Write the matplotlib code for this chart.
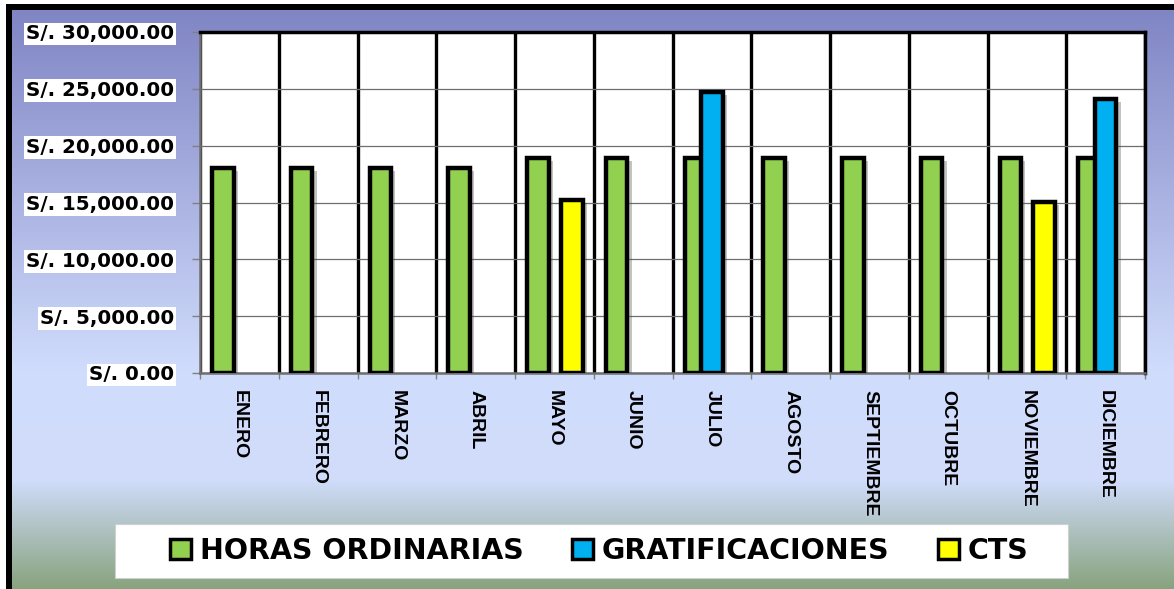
import matplotlib
matplotlib.use('Agg')
import matplotlib.pyplot as plt
import matplotlib.patheffects as pe
from matplotlib.patches import Rectangle
import numpy as np

# Data
meses = ['ENERO', 'FEBRERO', 'MARZO', 'ABRIL', 'MAYO', 'JUNIO', 'JULIO',
         'AGOSTO', 'SEPTIEMBRE', 'OCTUBRE', 'NOVIEMBRE', 'DICIEMBRE']
horas = [18050, 18050, 18050, 18050, 18930, 18930, 18930, 18930, 18930, 18930, 18930, 18930]
grati = [0, 0, 0, 0, 0, 0, 24700, 0, 0, 0, 0, 24120]
cts = [0, 0, 0, 0, 15240, 0, 0, 0, 0, 0, 15030, 0]
yticks = [0, 5000, 10000, 15000, 20000, 25000, 30000]

W, H = 1174, 589
fig = plt.figure(figsize=(W / 100, H / 100), dpi=100)
fig.patch.set_facecolor('white')

# ---- gradient background ----
rows = np.arange(H - 10)
stops_y = [0, 360, 470, H - 10]
r = np.interp(rows, stops_y, [128, 208, 208, 135])
g = np.interp(rows, stops_y, [133, 220, 220, 162])
b = np.interp(rows, stops_y, [196, 252, 250, 125])
grad = np.stack([r, g, b], axis=1)[:, None, :] / 255.0
bg = fig.add_axes([12 / W, 0, 1 - 12 / W, 1 - 10 / H], zorder=-10)
bg.imshow(grad, aspect='auto', extent=[0, 1, 0, 1])
bg.axis('off')
# black frame top / left
fig.patches.append(Rectangle((6 / W, 1 - 10 / H), 1, 6 / H, transform=fig.transFigure,
                             facecolor='black', edgecolor='none', zorder=-5))
fig.patches.append(Rectangle((6 / W, 0), 6 / W, 1 - 4 / H, transform=fig.transFigure,
                             facecolor='black', edgecolor='none', zorder=-5))

# ---- main axes ----
ax = fig.add_axes([200 / W, 1 - 373 / H, 945 / W, 341 / H])
ax.set_facecolor('white')
x = np.arange(len(meses))
bw = 0.275
shadow = [pe.SimplePatchShadow(offset=(3, -2), shadow_rgbFace='#555555', alpha=0.35), pe.Normal()]

ax.bar(x - 0.21, horas, bw, color='#92D050', edgecolor='black', linewidth=3.2,
       path_effects=shadow, zorder=3)
gx = [i for i in x if grati[i] > 0]
ax.bar(np.array(gx), [grati[i] for i in gx], bw, color='#00B0F0', edgecolor='black',
       linewidth=3.2, path_effects=shadow, zorder=4)
cx = [i for i in x if cts[i] > 0]
ax.bar(np.array(cx) + 0.22, [cts[i] for i in cx], bw, color='#FFFF00', edgecolor='black',
       linewidth=3.2, path_effects=shadow, zorder=4)

ax.set_xlim(-0.5, len(meses) - 0.5)
ax.set_ylim(0, 30000)

# horizontal grid (gray) and category separators (black)
ax.set_yticks(yticks)
ax.yaxis.grid(True, color='#6E6E6E', linewidth=0.9)
ax.set_xticks(x)
ax.set_xticks(np.arange(-0.5, len(meses)), minor=True)
ax.xaxis.grid(True, which='minor', color='black', linewidth=2.4)
ax.xaxis.grid(False, which='major')
ax.set_axisbelow(True)

ax.set_yticklabels(['S/. {:,.2f}'.format(v) for v in yticks],
                   fontsize=14.3, fontweight='bold', family='DejaVu Sans')
for lbl in ax.get_yticklabels():
    lbl.set_bbox(dict(facecolor='white', edgecolor='none', pad=1.5))
ax.tick_params(axis='y', length=5.5, color='#808080', width=1, pad=13)

ax.set_xticklabels(meses, rotation=270, ha='center', va='top', fontsize=14,
                   fontweight='bold', family='Liberation Sans')
ax.tick_params(axis='x', which='major', length=0, pad=12)
ax.tick_params(axis='x', which='minor', length=4, color='#808080', width=1)

for s in ['top', 'right']:
    ax.spines[s].set_color('black')
    ax.spines[s].set_linewidth(2.5)
for s in ['left', 'bottom']:
    ax.spines[s].set_color('#6E6E6E')
    ax.spines[s].set_linewidth(1.8)

# ---- legend ----
fig.patches.append(Rectangle((115 / W, 1 - 578 / H), 953 / W, 54 / H, transform=fig.transFigure,
                             facecolor='white', edgecolor='#D0D0D0', linewidth=0.8, zorder=1))
handles = [Rectangle((0, 0), 1, 1, facecolor=c, edgecolor='black', linewidth=2.5)
           for c in ['#92D050', '#00B0F0', '#FFFF00']]
leg = fig.legend(handles, ['HORAS ORDINARIAS', 'GRATIFICACIONES', 'CTS'],
                 loc='center', bbox_to_anchor=(599 / W, 1 - 551 / H), ncol=3, frameon=False,
                 prop={'family': 'DejaVu Sans', 'weight': 'bold', 'size': 20.5},
                 handlelength=0.75, handleheight=0.75, handletextpad=0.3, columnspacing=1.7)
leg.set_zorder(5)

fig.savefig('out.png', dpi=100)
